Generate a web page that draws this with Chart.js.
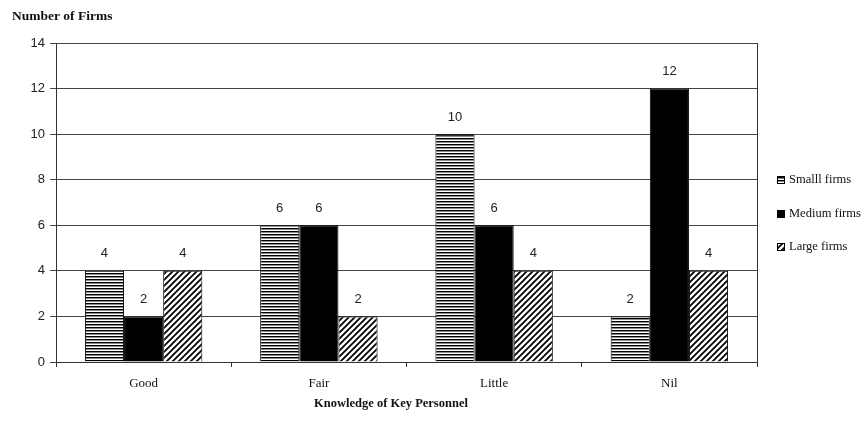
<!DOCTYPE html>
<html>
<head>
<meta charset="utf-8">
<script src="https://cdn.jsdelivr.net/npm/chart.js@4"></script>
<style>
  html, body { margin: 0; padding: 0; background: #fff; }
</style>
</head>
<body>
<canvas id="firms-chart" width="866" height="424"></canvas>
<script>
// data
const categories = ['Good', 'Fair', 'Little', 'Nil'];
const smallFirms = [4, 6, 10, 2];
const mediumFirms = [2, 6, 6, 12];
const largeFirms = [4, 2, 4, 4];
const yTicks = [0, 2, 4, 6, 8, 10, 12, 14];

const serif = '"Liberation Serif", "Times New Roman", serif';
const sans = '"Liberation Sans", Arial, sans-serif';

// hatch patterns like the old excel fills
function stripePattern() {
  const c = document.createElement('canvas');
  c.width = 4; c.height = 3;
  const g = c.getContext('2d');
  g.fillStyle = '#fff';
  g.fillRect(0, 0, 4, 3);
  g.fillStyle = '#000';
  g.fillRect(0, 0, 4, 1);
  g.fillStyle = '#8a8a8a';
  g.fillRect(0, 1, 4, 1);
  return g.createPattern(c, 'repeat');
}

function diagPattern() {
  const s = 6;
  const c = document.createElement('canvas');
  c.width = s; c.height = s;
  const g = c.getContext('2d');
  g.fillStyle = '#fff';
  g.fillRect(0, 0, s, s);
  g.strokeStyle = '#000';
  g.lineWidth = 1.8;
  g.beginPath();
  g.moveTo(-1, s + 1); g.lineTo(s + 1, -1);
  g.moveTo(-1, 1); g.lineTo(1, -1);
  g.moveTo(s - 1, s + 1); g.lineTo(s + 1, s - 1);
  g.stroke();
  return g.createPattern(c, 'repeat');
}

const plotLeft = 56, plotRight = 757, plotTop = 43, plotBottom = 362;

const extras = {
  id: 'extras',
  afterDatasetsDraw(chart) {
    const ctx = chart.ctx;
    const area = chart.chartArea;
    ctx.save();
    // right edge of plot frame
    ctx.strokeStyle = '#333';
    ctx.lineWidth = 1;
    ctx.beginPath();
    ctx.moveTo(area.right + 0.5, area.top);
    ctx.lineTo(area.right + 0.5, area.bottom + 5);
    ctx.stroke();

    // value labels over bars
    ctx.font = '13px ' + sans;
    ctx.fillStyle = '#222';
    ctx.textAlign = 'center';
    ctx.textBaseline = 'middle';
    chart.data.datasets.forEach((ds, i) => {
      chart.getDatasetMeta(i).data.forEach((bar, j) => {
        ctx.fillText(String(ds.data[j]), bar.x, bar.y - 17);
      });
    });

    // axis titles
    ctx.fillStyle = '#111';
    ctx.font = 'bold 13.5px ' + serif;
    ctx.textAlign = 'left';
    ctx.fillText('Number of Firms', 12, 17);
    ctx.font = 'bold 12.5px ' + serif;
    ctx.textAlign = 'center';
    ctx.fillText('Knowledge of Key Personnel', 391, 404);

    // legend
    const rowsY = [180, 214, 247];
    ctx.font = '12.5px ' + serif;
    ctx.textAlign = 'left';
    chart.data.datasets.forEach((ds, i) => {
      const y = rowsY[i];
      ctx.fillStyle = ds.backgroundColor;
      ctx.fillRect(777, y - 4, 8, 8);
      ctx.strokeStyle = '#000';
      ctx.lineWidth = 1;
      ctx.strokeRect(777.5, y - 3.5, 7, 7);
      ctx.fillStyle = '#111';
      ctx.fillText(ds.label, 789, y);
    });
    ctx.restore();
  }
};

new Chart(document.getElementById('firms-chart'), {
  type: 'bar',
  data: {
    labels: categories,
    datasets: [
      { label: 'Smalll firms', data: smallFirms, backgroundColor: stripePattern() },
      { label: 'Medium firms', data: mediumFirms, backgroundColor: '#000' },
      { label: 'Large firms', data: largeFirms, backgroundColor: diagPattern() }
    ]
  },
  options: {
    responsive: false,
    animation: false,
    devicePixelRatio: 1,
    layout: { padding: { left: 0, top: plotTop, right: 866 - plotRight, bottom: 0 } },
    datasets: {
      bar: {
        categoryPercentage: 0.67,
        barPercentage: 1,
        borderColor: '#000',
        borderWidth: 1
      }
    },
    plugins: {
      legend: { display: false },
      tooltip: { enabled: false }
    },
    scales: {
      x: {
        afterFit(scale) { scale.height = 424 - plotBottom; },
        border: { color: '#333', width: 1 },
        grid: { offset: true, drawOnChartArea: false, tickLength: 5, color: '#333' },
        ticks: { color: '#111', font: { family: serif, size: 13 }, padding: 9 }
      },
      y: {
        min: 0,
        max: 14,
        afterFit(scale) { scale.width = plotLeft; },
        afterBuildTicks(scale) { scale.ticks = yTicks.map(v => ({ value: v })); },
        border: { color: '#333', width: 1 },
        grid: { color: '#444', lineWidth: 1, tickLength: 6 },
        ticks: { color: '#222', font: { family: sans, size: 13 }, padding: 5 }
      }
    }
  },
  plugins: [extras]
});
</script>
</body>
</html>
